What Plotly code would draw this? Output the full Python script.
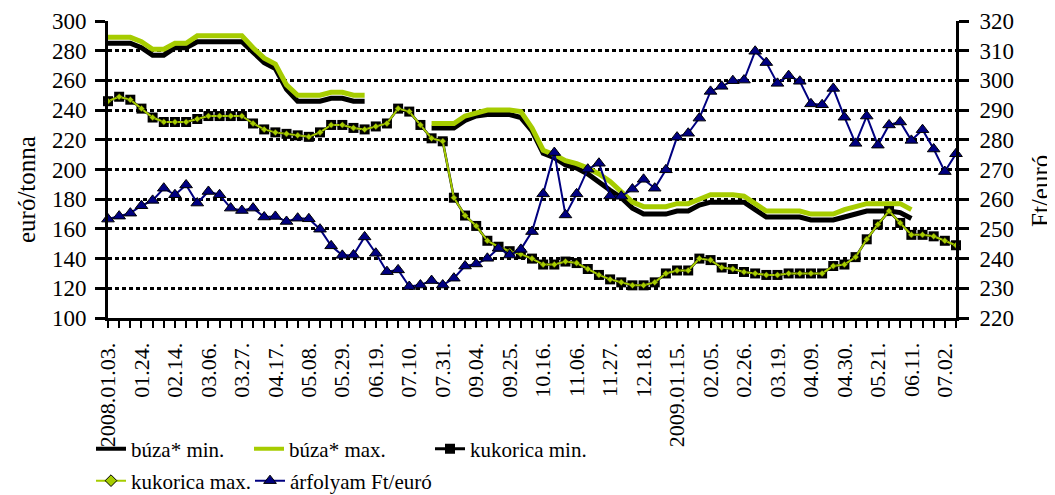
import plotly.graph_objects as go

# ---- data ----
dates = [
    "2008.01.03.", "2008.01.10.", "2008.01.17.", "2008.01.24.", "2008.01.31.", "2008.02.07.",
    "2008.02.14.", "2008.02.21.", "2008.02.28.", "2008.03.06.", "2008.03.13.", "2008.03.20.",
    "2008.03.27.", "2008.04.03.", "2008.04.10.", "2008.04.17.", "2008.04.24.", "2008.05.01.",
    "2008.05.08.", "2008.05.15.", "2008.05.22.", "2008.05.29.", "2008.06.05.", "2008.06.12.",
    "2008.06.19.", "2008.06.26.", "2008.07.03.", "2008.07.10.", "2008.07.17.", "2008.07.24.",
    "2008.07.31.", "2008.08.21.", "2008.08.28.", "2008.09.04.", "2008.09.11.", "2008.09.18.",
    "2008.09.25.", "2008.10.02.", "2008.10.09.", "2008.10.16.", "2008.10.23.", "2008.10.30.",
    "2008.11.06.", "2008.11.13.", "2008.11.20.", "2008.11.27.", "2008.12.04.", "2008.12.11.",
    "2008.12.18.", "2009.01.01.", "2009.01.08.", "2009.01.15.", "2009.01.22.", "2009.01.29.",
    "2009.02.05.", "2009.02.12.", "2009.02.19.", "2009.02.26.", "2009.03.05.", "2009.03.12.",
    "2009.03.19.", "2009.03.26.", "2009.04.02.", "2009.04.09.", "2009.04.16.", "2009.04.23.",
    "2009.04.30.", "2009.05.07.", "2009.05.14.", "2009.05.21.", "2009.05.28.", "2009.06.04.",
    "2009.06.11.", "2009.06.18.", "2009.06.25.", "2009.07.02.", "2009.07.09.",
]

tick_labels = [
    "2008.01.03.", "", "", "01.24.", "", "", "02.14.", "", "", "03.06.", "", "",
    "03.27.", "", "", "04.17.", "", "", "05.08.", "", "", "05.29.", "", "",
    "06.19.", "", "", "07.10.", "", "", "07.31.", "", "", "09.04.", "", "",
    "09.25.", "", "", "10.16.", "", "", "11.06.", "", "", "11.27.", "", "",
    "12.18.", "", "", "2009.01.15.", "", "", "02.05.", "", "", "02.26.", "", "",
    "03.19.", "", "", "04.09.", "", "", "04.30.", "", "", "05.21.", "", "",
    "06.11.", "", "", "07.02.", "",
]

N = None
buza_min = [
    285, 285, 285, 282, 277, 277, 282, 282, 286, 286, 286, 286,
    286, 279, 272, 268, 254, 246, 246, 246, 248, 248, 246, 246,
    N, N, N, N, N, 228, 228, 228, 233, 236, 237, 237,
    237, 235, 226, 211, 208, 203, 201, 197, 192, 186, 181, 174,
    170, 170, 170, 172, 172, 176, 178, 178, 178, 178, 173, 168,
    168, 168, 168, 166, 166, 166, 168, 170, 172, 172, 172, 171,
    167, N, N, N, N,
]

buza_max = [
    289, 289, 289, 286, 281, 281, 285, 285, 290, 290, 290, 290,
    290, 282, 275, 271, 257, 250, 250, 250, 252, 252, 250, 250,
    N, N, N, N, N, 231, 231, 231, 236, 238, 240, 240,
    240, 239, 228, 213, 210, 206, 204, 201, 197, 192, 185, 178,
    175, 175, 175, 177, 177, 180, 183, 183, 183, 182, 177, 172,
    172, 172, 172, 170, 170, 170, 173, 175, 177, 177, 177, 177,
    173, N, N, N, N,
]

kukorica_max = [
    246, 249, 247, 241, 235, 232, 232, 232, 234, 236, 236, 236,
    236, 231, 227, 225, 224, 223, 222, 225, 230, 230, 228, 227,
    229, 231, 241, 239, 230, 221, 219, 181, 169, 162, 152, 148,
    145, 143, 140, 136, 136, 138, 137, 133, 129, 126, 124, 122,
    122, 124, 130, 132, 132, 140, 139, 134, 133, 131, 130, 129,
    129, 130, 130, 130, 130, 135, 136, 141, 153, 163, 172, 164,
    156, 156, 155, 152, 149,
]

kukorica_min = [
    246, 249, 247, 241, 235, 232, 232, 232, 234, 236, 236, 236,
    236, 231, 227, 225, 224, 223, 222, 225, 230, 230, 228, 227,
    229, 231, 241, 239, 230, 221, 219, 181, 169, 162, 152, 148,
    145, 143, 140, 136, 136, 138, 137, 133, 129, 126, 124, 122,
    122, 124, 130, 132, 132, 140, 139, 134, 133, 131, 130, 129,
    129, 130, 130, 130, 130, 135, 136, 141, 153, 163, 172, 164,
    156, 156, 155, 152, 149,
]

arfolyam = [
    253.3, 254.3, 255.3, 257.8, 259.6, 263.7, 261.5, 264.8, 258.7, 262.6, 261.5, 257.0,
    256.2, 257.0, 254.0, 254.2, 252.5, 253.6, 253.4, 249.9, 244.3, 241.1, 241.2, 247.3,
    241.8, 235.6, 236.2, 230.6, 231.1, 232.6, 231.1, 233.4, 237.5, 238.2, 240.1, 243.5,
    241.2, 243.1, 249.1, 261.8, 275.7, 254.7, 261.8, 270.1, 272.1, 261.1, 261.0, 263.4,
    266.7, 263.7, 269.9, 280.9, 282.2, 287.3, 296.3, 298.0, 299.9, 300.1, 309.8, 306.0,
    299.0, 301.6, 299.7, 292.1, 291.8, 297.3, 287.6, 278.8, 288.0, 278.2, 285.0, 286.0,
    279.8, 283.4, 276.9, 269.3, 275.3,
]

series_names = ["búza* min.", "búza* max.", "kukorica min.", "kukorica max.", "árfolyam Ft/euró"]
axis_titles = ["euró/tonna", "Ft/euró"]

GREEN = "#A6CC00"
NAVY = "#000080"
FONT = "Liberation Serif, Times New Roman, DejaVu Serif, serif"

fig = go.Figure()

# ---- data traces ----
fig.add_trace(go.Scatter(x=dates, y=buza_min, mode="lines", name=series_names[0],
                         line=dict(color="black", width=5), connectgaps=False,
                         showlegend=False, cliponaxis=False))
fig.add_trace(go.Scatter(x=dates, y=buza_max, mode="lines", name=series_names[1],
                         line=dict(color=GREEN, width=5), connectgaps=False,
                         showlegend=False, cliponaxis=False))
fig.add_trace(go.Scatter(x=dates, y=kukorica_min, mode="lines+markers", name=series_names[2],
                         line=dict(color="black", width=2.5),
                         marker=dict(symbol="square", size=10, color="black"),
                         showlegend=False, cliponaxis=False))
fig.add_trace(go.Scatter(x=dates, y=kukorica_max, mode="lines+markers", name=series_names[3],
                         line=dict(color=GREEN, width=2),
                         marker=dict(symbol="diamond", size=5, color=GREEN,
                                     line=dict(color="#333300", width=0.6)),
                         showlegend=False, cliponaxis=False))
fig.add_trace(go.Scatter(x=dates, y=arfolyam, mode="lines+markers", name=series_names[4],
                         line=dict(color=NAVY, width=2),
                         marker=dict(symbol="triangle-up", size=11, color=NAVY,
                                     line=dict(color="black", width=1)),
                         yaxis="y2", showlegend=False, cliponaxis=False))

# ---- legend entries (one legend box per entry, placed like the original) ----
legend_styles = [
    dict(mode="lines", line=dict(color="black", width=4)),
    dict(mode="lines", line=dict(color=GREEN, width=4)),
    dict(mode="lines+markers", line=dict(color="black", width=3),
         marker=dict(symbol="square", size=10, color="black")),
    dict(mode="lines+markers", line=dict(color=GREEN, width=2),
         marker=dict(symbol="diamond", size=9, color=GREEN, line=dict(color="black", width=1))),
    dict(mode="lines+markers", line=dict(color=NAVY, width=2),
         marker=dict(symbol="triangle-up", size=11, color=NAVY, line=dict(color="black", width=1))),
]
legend_ids = ["legend", "legend2", "legend3", "legend4", "legend5"]
for name, st, lid in zip(series_names, legend_styles, legend_ids):
    fig.add_trace(go.Scatter(x=[None], y=[None], name=name, legend=lid, showlegend=True, **st))

# page offset of the figure (default body margin)
OFF = 8
W, H = 1055 - OFF, 495 - OFF
# plot area in page pixels: x 108..956, y 21..318
L = 108 - OFF
T = 21 - OFF
R = W - (956 - OFF)
B = H - (318 - OFF)
pw, ph = W - L - R, H - T - B


def px_x(px):
    return (px - OFF - L) / pw


def px_y(py):
    return (H - B - (py - OFF)) / ph


legend_pos = [(91, 449), (249, 449), (430, 449), (91, 481), (250, 481)]
leg_common = dict(orientation="v", xanchor="left", yanchor="middle",
                  bgcolor="rgba(0,0,0,0)", borderwidth=0,
                  font=dict(family=FONT, size=21, color="black"))
legend_layout = {}
for lid, (lx, ly) in zip(legend_ids, legend_pos):
    legend_layout[lid] = dict(x=px_x(lx), y=px_y(ly), **leg_common)

# axis titles placed as rotated annotations (centred like the original)
title_pos = [(26, 190), (1040, 191)]
annotations = [
    dict(text=t, x=px_x(tx), y=px_y(ty), xref="paper", yref="paper",
         xanchor="center", yanchor="middle", textangle=-90, showarrow=False,
         borderpad=0, font=dict(family=FONT, size=25, color="black"))
    for t, (tx, ty) in zip(axis_titles, title_pos)
]

fig.update_layout(
    width=W, height=H,
    margin=dict(l=L, r=R, t=T, b=B, autoexpand=False),
    paper_bgcolor="white", plot_bgcolor="white",
    font=dict(family=FONT, size=22, color="black"),
    xaxis=dict(
        type="category", categoryorder="array", categoryarray=dates,
        range=[0, len(dates) - 1],
        tickmode="array", tickvals=dates, ticktext=tick_labels,
        tickangle=-90, ticks="outside", ticklen=7, tickwidth=2, tickcolor="black",
        ticklabelstandoff=6,
        showline=True, linecolor="black", linewidth=3,
        showgrid=False, zeroline=False,
        tickfont=dict(family=FONT, size=22),
    ),
    yaxis=dict(
        range=[100, 300], dtick=20, tick0=100,
        ticks="outside", ticklen=10, tickwidth=2.5, tickcolor="black",
        showline=True, linecolor="black", linewidth=3,
        showgrid=True, gridcolor="black", gridwidth=2.5, griddash="4px,3px",
        zeroline=False, ticklabelstandoff=4,
        tickfont=dict(family=FONT, size=23),
    ),
    yaxis2=dict(
        range=[220, 320], dtick=10, tick0=220,
        overlaying="y", side="right", anchor="x",
        ticks="outside", ticklen=10, tickwidth=2.5, tickcolor="black",
        showline=True, linecolor="black", linewidth=3,
        showgrid=False, zeroline=False, ticklabelstandoff=6,
        tickfont=dict(family=FONT, size=23),
    ),
    annotations=annotations,
    **legend_layout,
)

fig.write_html("out.html")
